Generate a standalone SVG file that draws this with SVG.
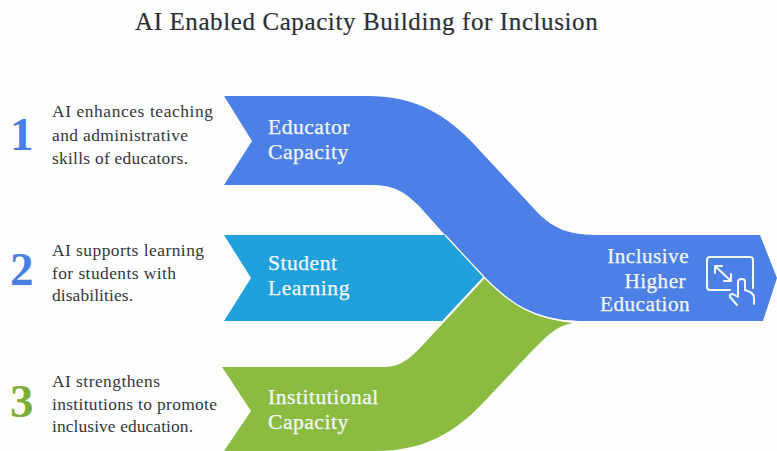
<svg xmlns="http://www.w3.org/2000/svg" width="777" height="451" viewBox="0 0 777 451">
<style>
text{font-family:"Liberation Serif","Times New Roman",serif}
.title{font-size:25px;fill:#2b2f36;letter-spacing:.6px;stroke:#2b2f36;stroke-width:.2px}
.d{font-size:17.4px;fill:#33373d}
.l{font-size:21.6px;fill:#f2f7fc;letter-spacing:.5px;stroke:#f2f7fc;stroke-width:.25px}
.r{font-size:21.2px;letter-spacing:.45px}
.n{font-size:47px;font-weight:bold}
.ic{fill:none;stroke:#f2f6fd;stroke-width:2;stroke-linecap:round;stroke-linejoin:round}
</style>
<rect width="777" height="451" fill="#fefefe"/>
<text class="title" x="135" y="30">AI Enabled Capacity Building for Inclusion</text>
<g id="node-student">
<path fill="#20a1dc" d="M224 235H445L484 277L443 321H224L251 278Z"/>
<text class="l" x="268" y="270">Student</text>
<text class="l" x="268" y="295">Learning</text>
</g>
<g id="node-institutional">
<path fill="#8bbc41" d="M222 367H385C400 367 410 358 420 348L485 278C510 304 535 319 573 323C555 326 545 338 530 353L483 403C455 432 425 451 375 451H224L251 411Z"/>
<text class="l" x="268" y="404">Institutional</text>
<text class="l" x="268" y="429">Capacity</text>
</g>
<g id="node-educator">
<path fill="#4d80e6" d="M224 96H368C410 96 440 110 470 140L538 213C556 231 572 235 600 235H760L777 278L763 321H580C535 320 510 304 484 277L445 235L420 207C405 192 395 185 370 185H224L252 141Z"/>
<text class="l" x="268" y="134">Educator</text>
<text class="l" x="268" y="159">Capacity</text>
</g>
<g id="connectors">
<path fill="none" stroke="#fefefe" stroke-width="1.3" d="M443 321L484 277C510 304 535 320 575 321.5M445 235L484 277"/>
</g>
<g id="node-outcome">
<text class="l r" x="689" y="263" text-anchor="end">Inclusive</text>
<text class="l r" x="686" y="288" text-anchor="end">Higher</text>
<text class="l r" x="690" y="311" text-anchor="end">Education</text>
<g class="ic">
<path d="M730 290H710Q707 290 707 287V260Q707 257 710 257H750Q753 257 753 260V288"/>
<path d="M715 266L731 281M715 266V273M715 266H722M731 281V274M731 281H724"/>
<path d="M737 305L730 297Q729 294 733 294L738 297V282Q738 279 742 279Q745 279 745 282V290L750 292Q754 294 754 298V304"/>
</g>
</g>
<g id="step-1">
<text class="n" x="10" y="150" fill="#4a80e4">1</text>
<text class="d" x="52" y="117" textLength="161">AI enhances teaching</text>
<text class="d" x="52" y="141" textLength="136">and administrative</text>
<text class="d" x="52" y="164" textLength="136">skills of educators.</text>
</g>
<g id="step-2">
<text class="n" x="10" y="285" fill="#4a80e4">2</text>
<text class="d" x="52" y="256" textLength="152">AI supports learning</text>
<text class="d" x="52" y="279" textLength="124">for students with</text>
<text class="d" x="52" y="301" textLength="81">disabilities.</text>
</g>
<g id="step-3">
<text class="n" x="10" y="417" fill="#7cae37">3</text>
<text class="d" x="52" y="387" textLength="108">AI strengthens</text>
<text class="d" x="52" y="410" textLength="165">institutions to promote</text>
<text class="d" x="52" y="432" textLength="141">inclusive education.</text>
</g>
</svg>
